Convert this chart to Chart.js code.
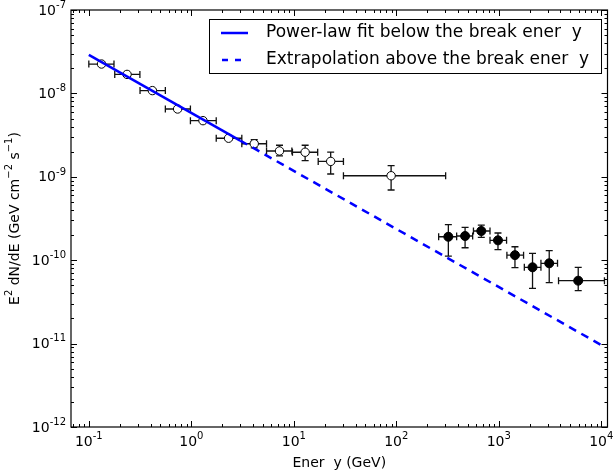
<!DOCTYPE html>
<html>
<head>
<meta charset="utf-8">
<script src="https://cdn.jsdelivr.net/npm/chart.js@4.4.1/dist/chart.umd.min.js"></script>
<style>
body { margin: 0; background: #fff; }
</style>
</head>
<body>
<canvas id="myChart" width="613" height="475"></canvas>
<script>
'use strict'
// open circles: points below ~300 GeV
const openE      = [0.133, 0.236, 0.417, 0.735, 1.30, 2.31, 4.11, 7.25, 12.9, 22.9, 89];
const openELow   = [0.100, 0.179, 0.316, 0.558, 0.98, 1.75, 3.11, 5.42, 9.7, 17.3, 30.5];
const openEHigh  = [0.176, 0.315, 0.558, 0.980, 1.75, 3.11, 5.42, 9.57, 17.1, 30.5, 303];
const openFlux   = [2.25e-8, 1.69e-8, 1.08e-8, 6.5e-9, 4.71e-9, 2.90e-9, 2.49e-9, 2.04e-9, 1.97e-9, 1.53e-9, 1.03e-9];
const openFluxLo = [2.17e-8, 1.63e-8, 1.04e-8, 6.25e-9, 4.52e-9, 2.78e-9, 2.22e-9, 1.78e-9, 1.56e-9, 1.08e-9, 6.95e-10];
const openFluxHi = [2.33e-8, 1.75e-8, 1.12e-8, 6.75e-9, 4.90e-9, 3.02e-9, 2.78e-9, 2.39e-9, 2.39e-9, 1.98e-9, 1.36e-9];

// filled circles: high energy points
const fullE      = [322, 469, 675, 982, 1438, 2134, 3105, 5957];
const fullELow   = [259, 388, 566, 821, 1200, 1775, 2578, 3828];
const fullEHigh  = [388, 556, 821, 1191, 1745, 2578, 3741, 10740];
const fullFlux   = [1.91e-10, 1.95e-10, 2.24e-10, 1.73e-10, 1.15e-10, 8.22e-11, 9.18e-11, 5.68e-11];
const fullFluxLo = [1.12e-10, 1.41e-10, 1.88e-10, 1.34e-10, 8.13e-11, 4.60e-11, 5.37e-11, 4.31e-11];
const fullFluxHi = [2.67e-10, 2.48e-10, 2.64e-10, 2.12e-10, 1.45e-10, 1.21e-10, 1.30e-10, 8.22e-11];

// power-law fit and its extrapolation
const fitE = [0.1, 3.0];
const fitFlux = [2.9e-8, 2.72e-9];
const extraE = [3.0, 1e4];
const extraFlux = [2.72e-9, 9.6e-12];

const xTickPowers = [-1, 0, 1, 2, 3, 4];
const yTickPowers = [-12, -11, -10, -9, -8, -7];
const legendLabels = ['Power-law fit below the break ener  y', 'Extrapolation above the break ener  y'];
const xTitle = 'Ener  y (GeV)';

const FONT = '"DejaVu Sans", sans-serif';

function toXY(xs, ys) {
    return xs.map((v, i) => ({x: v, y: ys[i]}));
}

function drawPow(ctx, base, exp, x, y, size, align) {
    ctx.font = size + 'px ' + FONT;
    let wb = ctx.measureText(base).width;
    ctx.font = Math.round(size * 0.72) + 'px ' + FONT;
    let we = ctx.measureText(exp).width;
    let total = wb + we;
    let x0 = align === 'right' ? x - total : x - total / 2;
    ctx.textAlign = 'left';
    ctx.textBaseline = 'middle';
    ctx.font = size + 'px ' + FONT;
    ctx.fillText(base, x0, y);
    ctx.font = Math.round(size * 0.72) + 'px ' + FONT;
    ctx.fillText(exp, x0 + wb, y - size * 0.42);
}

function drawRich(ctx, parts, x, y, size) {
    // parts: [text, superscript?]
    let total = 0;
    for (let p of parts) {
        ctx.font = (p[1] ? Math.round(size * 0.72) : size) + 'px ' + FONT;
        total += ctx.measureText(p[0]).width;
    }
    let cx = x - total / 2;
    ctx.textAlign = 'left';
    ctx.textBaseline = 'middle';
    for (let p of parts) {
        ctx.font = (p[1] ? Math.round(size * 0.72) : size) + 'px ' + FONT;
        ctx.fillText(p[0], cx, p[1] ? y - size * 0.42 : y);
        cx += ctx.measureText(p[0]).width;
    }
}

function drawErrors(chart, E, El, Eh, F, Fl, Fh) {
    const ctx = chart.ctx, xs = chart.scales.x, ys = chart.scales.y;
    ctx.save();
    ctx.strokeStyle = '#111';
    ctx.lineWidth = 1.3;
    ctx.beginPath();
    for (let i = 0; i < E.length; i++) {
        let px = xs.getPixelForValue(E[i]), py = ys.getPixelForValue(F[i]);
        let x1 = xs.getPixelForValue(El[i]), x2 = xs.getPixelForValue(Eh[i]);
        let y1 = ys.getPixelForValue(Fl[i]), y2 = ys.getPixelForValue(Fh[i]);
        ctx.moveTo(x1, py); ctx.lineTo(x2, py);
        ctx.moveTo(x1, py - 3.5); ctx.lineTo(x1, py + 3.5);
        ctx.moveTo(x2, py - 3.5); ctx.lineTo(x2, py + 3.5);
        ctx.moveTo(px, y1); ctx.lineTo(px, y2);
        ctx.moveTo(px - 3.5, y1); ctx.lineTo(px + 3.5, y1);
        ctx.moveTo(px - 3.5, y2); ctx.lineTo(px + 3.5, y2);
    }
    ctx.stroke();
    ctx.restore();
}

const errorBars = {
    id: 'errorBars',
    beforeDatasetsDraw(chart) {
        drawErrors(chart, openE, openELow, openEHigh, openFlux, openFluxLo, openFluxHi);
        drawErrors(chart, fullE, fullELow, fullEHigh, fullFlux, fullFluxLo, fullFluxHi);
    }
};

const axesDecor = {
    id: 'axesDecor',
    afterDraw(chart) {
        const ctx = chart.ctx, a = chart.chartArea, xs = chart.scales.x, ys = chart.scales.y;
        ctx.save();
        ctx.strokeStyle = '#000';
        ctx.lineWidth = 1;
        ctx.beginPath();
        // x ticks, top and bottom
        for (let p = -2; p <= 4; p++) {
            for (let m = 1; m <= 9; m++) {
                let v = m * Math.pow(10, p);
                if (v < xs.min || v > xs.max) continue;
                let px = Math.round(xs.getPixelForValue(v)) + 0.5;
                let len = m === 1 ? 6 : 3;
                ctx.moveTo(px, a.bottom); ctx.lineTo(px, a.bottom - len);
                ctx.moveTo(px, a.top); ctx.lineTo(px, a.top + len);
            }
        }
        for (let p = -13; p <= -7; p++) {
            for (let m = 1; m <= 9; m++) {
                let v = m * Math.pow(10, p);
                if (v < ys.min * 0.999 || v > ys.max * 1.001) continue;
                let py = Math.round(ys.getPixelForValue(v)) + 0.5;
                let len = m === 1 ? 6 : 3;
                ctx.moveTo(a.left, py); ctx.lineTo(a.left + len, py);
                ctx.moveTo(a.right, py); ctx.lineTo(a.right - len, py);
            }
        }
        ctx.stroke();
        ctx.lineWidth = 1.2;
        ctx.strokeRect(a.left, a.top, a.right - a.left, a.bottom - a.top);

        ctx.fillStyle = '#000';
        for (let p of xTickPowers) {
            drawPow(ctx, '10', String(p), xs.getPixelForValue(Math.pow(10, p)), a.bottom + 15, 14, 'center');
        }
        for (let p of yTickPowers) {
            drawPow(ctx, '10', String(p), a.left - 5, ys.getPixelForValue(Math.pow(10, p)) + 1, 14, 'right');
        }

        // axis titles
        ctx.font = '14px ' + FONT;
        ctx.textAlign = 'center';
        ctx.textBaseline = 'middle';
        ctx.fillText(xTitle, (a.left + a.right) / 2, 463);
        ctx.save();
        ctx.translate(15, (a.top + a.bottom) / 2);
        ctx.rotate(-Math.PI / 2);
        drawRich(ctx, [['E', false], ['2', true], [' dN/dE (GeV cm', false], ['\u22122', true], [' s', false], ['\u22121', true], [')', false]], 0, 0, 14);
        ctx.restore();

        // legend
        let lx = 209.5, ly = 19.5, lw = 392, lh = 54;
        ctx.fillStyle = '#fff';
        ctx.fillRect(lx, ly, lw, lh);
        ctx.strokeStyle = '#000';
        ctx.lineWidth = 1;
        ctx.strokeRect(lx, ly, lw, lh);
        ctx.strokeStyle = '#0000ff';
        ctx.lineWidth = 2.5;
        ctx.beginPath();
        ctx.moveTo(221, 33); ctx.lineTo(248, 33);
        ctx.stroke();
        ctx.setLineDash([6, 7]);
        ctx.beginPath();
        ctx.moveTo(222, 60); ctx.lineTo(248, 60);
        ctx.stroke();
        ctx.setLineDash([]);
        ctx.fillStyle = '#000';
        ctx.font = '17px ' + FONT;
        ctx.textAlign = 'left';
        ctx.textBaseline = 'middle';
        ctx.fillText(legendLabels[0], 266, 33);
        ctx.fillText(legendLabels[1], 266, 60);
        ctx.restore();
    }
};

const ctx = document.getElementById('myChart').getContext('2d');
const myChart = new Chart(ctx, {
    type: 'scatter',
    data: {
        datasets: [
            {
                data: toXY(fitE, fitFlux),
                showLine: true,
                borderColor: '#0000ff',
                borderWidth: 2.5,
                pointRadius: 0,
                order: 0
            },
            {
                data: toXY(extraE, extraFlux),
                showLine: true,
                borderColor: '#0000ff',
                borderWidth: 2.5,
                borderDash: [8, 6],
                pointRadius: 0,
                order: 0
            },
            {
                data: toXY(openE, openFlux),
                pointRadius: 4.2,
                pointBackgroundColor: '#fff',
                pointBorderColor: '#000',
                pointBorderWidth: 1,
                order: 1
            },
            {
                data: toXY(fullE, fullFlux),
                pointRadius: 4.5,
                pointBackgroundColor: '#000',
                pointBorderColor: '#000',
                pointBorderWidth: 1,
                order: 1
            }
        ]
    },
    options: {
        responsive: false,
        animation: false,
        layout: { padding: { left: 71, right: 5, top: 10, bottom: 48 } },
        plugins: { legend: { display: false }, tooltip: { enabled: false } },
        scales: {
            x: { type: 'logarithmic', min: 0.067, max: 11500, bounds: 'data', display: false },
            y: { type: 'logarithmic', min: 1e-12, max: 1e-7, bounds: 'data', display: false }
        }
    },
    plugins: [errorBars, axesDecor]
});
</script>
</body>
</html>
